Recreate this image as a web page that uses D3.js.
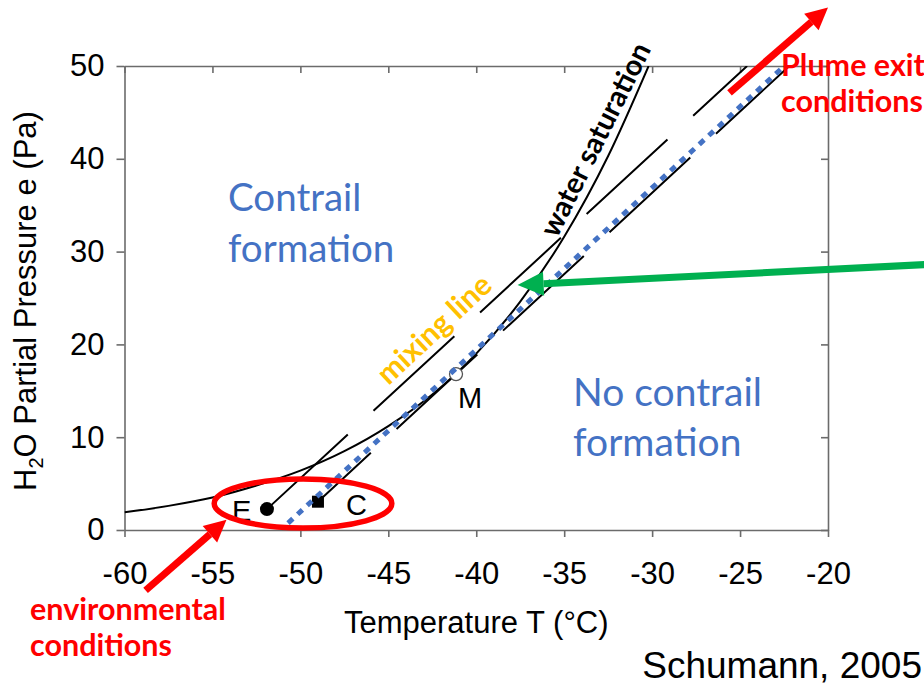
<!DOCTYPE html>
<html>
<head>
<meta charset="utf-8">
<script src="https://cdn.jsdelivr.net/npm/d3@7"></script>
<style>
body { margin: 0; background: #fff; }
</style>
</head>
<body>
<script>
// water saturation curve
const satT = [-60, -57.5, -55, -52.5, -50, -47.5, -45, -42.5, -40, -37.5, -35, -32.5, -30.2]
const satE = [1.9, 2.6, 3.5, 4.8, 6.4, 8.5, 11.2, 14.6, 19.0, 24.6, 31.6, 40.3, 50]

// mixing lines: start / end as [T, e]
const mixLineE = [[-51.9, 2.25], [-24.6, 50]]
const mixLineC = [[-49.0, 3.05], [-22.2, 50]]
const plumeLine = [[-50.7, 0.75], [-22.6, 49.8]]

const pointNames = ['E', 'C', 'M']
const pointT = [-51.9, -49.0, -41.15]
const pointE = [2.25, 3.05, 16.8]

const xTicks = [-60, -55, -50, -45, -40, -35, -30, -25, -20]
const yTicks = [0, 10, 20, 30, 40, 50]

const W = 924, H = 686
const plot = {left: 124.5, right: 828, top: 66, bottom: 530}

const svg = d3.select('body').append('svg')
    .attr('width', W)
    .attr('height', H)
    .style('font-family', '"Liberation Sans", Arial, sans-serif')

const x = d3.scaleLinear().domain([-60, -20]).range([plot.left, plot.right])
const y = d3.scaleLinear().domain([0, 50]).range([plot.bottom, plot.top])

svg.append('defs').append('clipPath').attr('id', 'clip')
    .append('rect')
    .attr('x', plot.left).attr('y', plot.top)
    .attr('width', plot.right - plot.left).attr('height', plot.bottom - plot.top)

// axes
const frameColor = '#6b6b6b'
function styleAxis(g){
    g.selectAll('path, line').attr('stroke', frameColor).attr('stroke-width', 1.6)
    g.selectAll('text').attr('fill', '#000').style('font-size', '31px').style('font-family', '"Liberation Sans", Arial, sans-serif')
}
const plain = d => String(d)   // keep the hyphen minus as in the figure

svg.append('g')
    .attr('transform', `translate(${plot.left},0)`)
    .call(d3.axisLeft(y).tickValues(yTicks).tickSize(8).tickSizeOuter(0).tickPadding(12).tickFormat(plain))
    .call(styleAxis)

svg.append('g')
    .attr('transform', `translate(0,${plot.bottom})`)
    .call(d3.axisBottom(x).tickValues(xTicks).tickSize(7).tickSizeOuter(0).tickPadding(25).tickFormat(plain))
    .call(styleAxis)

svg.append('g')
    .attr('transform', `translate(0,${plot.top})`)
    .call(d3.axisTop(x).tickValues(xTicks).tickSize(-7).tickSizeOuter(0).tickFormat(''))
    .call(styleAxis)

svg.append('g')
    .attr('transform', `translate(${plot.right},0)`)
    .call(d3.axisRight(y).tickValues(yTicks).tickSize(-7).tickSizeOuter(0).tickFormat(''))
    .call(styleAxis)

// axis titles
svg.append('text')
    .attr('x', (plot.left + plot.right) / 2)
    .attr('y', 633)
    .attr('text-anchor', 'middle')
    .style('font-size', '31px')
    .text('Temperature T (°C)')

const yTitle = svg.append('text')
    .attr('transform', `translate(36,${(plot.top + plot.bottom) / 2 + 3}) rotate(-90)`)
    .attr('text-anchor', 'middle')
    .style('font-size', '31px')
yTitle.append('tspan').text('H')
yTitle.append('tspan').text('2').style('font-size', '20px').attr('dy', 7)
yTitle.append('tspan').text('O Partial Pressure e (Pa)').attr('dy', -7)

// curves
const curves = svg.append('g').attr('clip-path', 'url(#clip)')
const line = d3.line().x(d => x(d[0])).y(d => y(d[1]))

curves.append('path')
    .datum(d3.zip(satT, satE))
    .attr('d', line.curve(d3.curveMonotoneX))
    .attr('fill', 'none')
    .attr('stroke', '#000')
    .attr('stroke-width', 2)

line.curve(d3.curveLinear)

curves.append('path')
    .datum(mixLineE)
    .attr('d', line)
    .attr('fill', 'none')
    .attr('stroke', '#000')
    .attr('stroke-width', 2)
    .attr('stroke-dasharray', '110 35')

curves.append('path')
    .datum(mixLineC)
    .attr('d', line)
    .attr('fill', 'none')
    .attr('stroke', '#000')
    .attr('stroke-width', 2)
    .attr('stroke-dasharray', '110 35')
    .attr('stroke-dashoffset', 38)

// points E, C, M
const pts = d3.zip(pointNames, pointT, pointE)
pts.forEach(([name, T, e]) => {
    if (name == 'E') {
        svg.append('circle').attr('cx', x(T)).attr('cy', y(e)).attr('r', 7).attr('fill', '#000')
        svg.append('text').attr('x', x(T) - 35).attr('y', y(e) + 12).style('font-size', '29px').text(name)
    } else if (name == 'C') {
        svg.append('rect').attr('x', x(T) - 6).attr('y', y(e) - 6).attr('width', 12).attr('height', 12).attr('fill', '#000')
        svg.append('text').attr('x', x(T) + 28).attr('y', y(e) + 13).style('font-size', '29px').text(name)
    } else {
        svg.append('circle').attr('cx', x(T)).attr('cy', y(e)).attr('r', 6.5)
            .attr('fill', '#fff').attr('stroke', '#555').attr('stroke-width', 1.3)
        svg.append('text').attr('x', x(T) + 14).attr('y', y(e) + 34).attr('text-anchor', 'middle').style('font-size', '29px').text(name)
    }
})

// blue dotted plume line on top
svg.append('path')
    .datum(plumeLine)
    .attr('d', line)
    .attr('fill', 'none')
    .attr('stroke', '#4472C4')
    .attr('stroke-width', 5)
    .attr('stroke-dasharray', '6.5 6.5')

// text labels in the plot
const calibri = 'Lato, "Open Sans", sans-serif'
function label(txt, px, py, size, color, weight, rot){
    svg.append('text')
        .attr('transform', `translate(${px},${py})` + (rot ? ` rotate(${rot})` : ''))
        .attr('text-anchor', rot ? 'middle' : 'start')
        .attr('dominant-baseline', rot ? 'central' : 'auto')
        .style('font-family', calibri)
        .style('font-size', size + 'px')
        .style('font-weight', weight)
        .attr('fill', color)
        .text(txt)
}

label('Contrail', 228, 211, 38.5, '#4472C4', 400)
label('formation', 228, 262, 38.5, '#4472C4', 400)
label('No contrail', 573, 406, 39, '#4472C4', 400)
label('formation', 573, 456, 39, '#4472C4', 400)
label('mixing line', 433, 328, 30, '#FFC000', 700, -43)
label('water saturation', 594, 139, 29, '#000', 700, -63.5)

label('Plume exit', 781, 76, 30.5, '#FF0000', 700)
label('conditions', 781, 112, 30.5, '#FF0000', 700)
label('environmental', 30, 620, 30.5, '#FF0000', 700)
label('conditions', 30, 656, 30.5, '#FF0000', 700)

svg.append('text')
    .attr('x', 922).attr('y', 678)
    .attr('text-anchor', 'end')
    .style('font-size', '37px')
    .text('Schumann, 2005')

// annotations: ellipse and arrows (positions in data units)
svg.append('ellipse')
    .attr('cx', x(-49.85)).attr('cy', y(2.86))
    .attr('rx', x(-49.85 + 5.05) - x(-49.85)).attr('ry', y(0) - y(2.64))
    .attr('fill', 'none')
    .attr('stroke', '#FF0000')
    .attr('stroke-width', 5.5)

function arrow(from, to, color, width, headLen, headW){
    const x1 = x(from[0]), y1 = y(from[1]), x2 = x(to[0]), y2 = y(to[1])
    const ang = Math.atan2(y2 - y1, x2 - x1)
    const bx = x2 - headLen * Math.cos(ang), by = y2 - headLen * Math.sin(ang)
    svg.append('line')
        .attr('x1', x1).attr('y1', y1).attr('x2', bx).attr('y2', by)
        .attr('stroke', color).attr('stroke-width', width)
    const nx = -Math.sin(ang) * headW / 2, ny = Math.cos(ang) * headW / 2
    svg.append('polygon')
        .attr('points', [[x2, y2], [bx + nx, by + ny], [bx - nx, by - ny]].map(p => p.join(',')).join(' '))
        .attr('fill', color)
}

arrow([-25.6, 47.1], [-20.0, 56.3], '#FF0000', 7, 22, 22)
arrow([-58.8, -6.5], [-54.2, 1.1], '#FF0000', 7, 22, 22)
arrow([-14.5, 28.6], [-37.65, 26.4], '#00B050', 7, 26, 24)
</script>
</body>
</html>
